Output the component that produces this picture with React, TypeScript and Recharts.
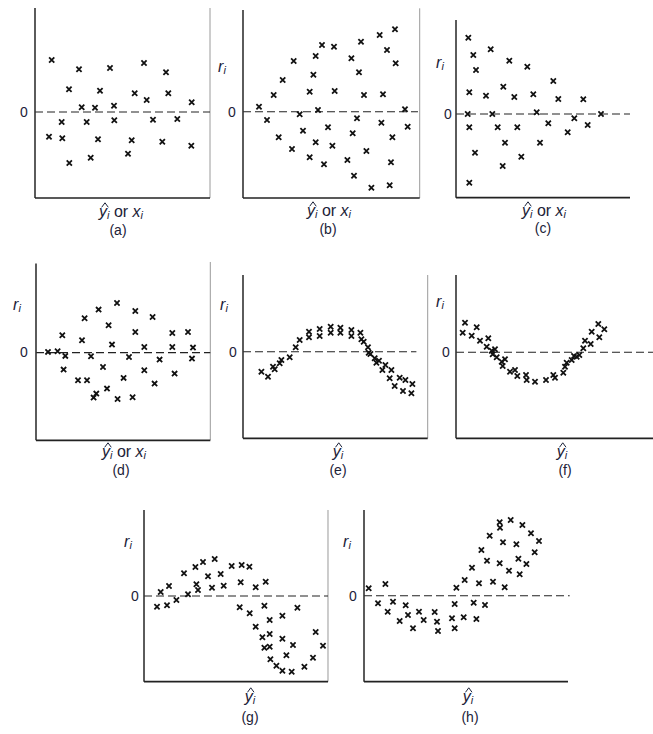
import React from "react";
import { ScatterChart, Scatter, XAxis, YAxis, ReferenceLine } from "recharts";

// residuals: [position along the axis, residual]
// both in screen px, x from the left axis, r above the zero line
const residA = [
  [16.7, 52], [44, 42.7], [75, 44], [109, 49], [131, 39.7], [34, 22.7], [65, 21.3],
  [99.7, 18.7], [133.3, 18.7], [111.7, 12], [156.7, 9.7], [46.7, 4.7], [60, 4.3],
  [79, 6.3], [26.7, -10], [51.7, -10], [79.3, -8.3], [118, -7.7], [142.3, -7],
  [14, -24.7], [27.3, -26.3], [63, -27.3], [96.7, -28.3], [127.3, -29.7],
  [156.3, -33.7], [34.3, -51], [55.7, -45.7], [93, -41.7],
];

const residB = [
  [16, 5], [24, -8.3], [30.7, 16.7], [35.7, -25.6], [39.7, 31.7], [49, -37.3],
  [50.7, 50.7], [56.7, -2.6], [60, -19], [66.7, 20], [66.7, -45.6], [70.4, 37],
  [72.7, 55.7], [72.7, -30.6], [75, 1.7], [79, 66.7], [81, -52.6], [85, -15.6],
  [89.4, -34], [91, 65], [91.7, 20.7], [104.4, -48.3], [108.4, 53.4], [109.7, -21.6],
  [111, -64], [114, -6.6], [116, 39.4], [118, 70], [121, 16.7], [123.4, -39.3],
  [128.4, -76], [136.7, 76.7], [138.4, -11], [140, 17.4], [144, 61.7], [146.7, -73.6],
  [148, -50.6], [149.4, -25.6], [152.7, 48.4], [152, 82.4], [162, 2.4], [164.7, -15],
];

const residC = [
  [12.3, 76.3], [17.3, 59], [20, 44], [13.3, 21.7], [11.7, 0], [13.3, -13.3],
  [19, -38.7], [13.3, -68.7], [34.7, 64.7], [30, 18.3], [36.3, 0], [41.7, -13.3],
  [47.3, 27.3], [49, -28.7], [46.7, -52], [53.3, 53.3], [58.3, 17], [61.3, -13.3],
  [65.3, -42.7], [71.3, 47.3], [77.3, 19.7], [80.7, 1.7], [84, -28.7], [92.3, -9.3],
  [97.3, 33], [102.3, 15], [111.7, -18.3], [118.3, -4.3], [127.3, 14.7],
  [131.7, -11], [145, 0],
];

const residD = [
  [12, 0.7], [21.6, 1.3], [29.3, -3.3], [26.3, 17.3], [27.6, -17], [42, -27.7],
  [46, 12.3], [48.6, 34.3], [51, -27.7], [55, -3.7], [57.6, -45], [60.3, -41],
  [62.6, 43], [67, -14.4], [71, -36], [72.6, 27.3], [76, 8], [81, 49.6],
  [81.6, -46.4], [87.6, -25.3], [93, -4.4], [96.6, -44.7], [99.3, 41.6], [99.3, 20.6],
  [108.3, 5.6], [108.3, -17.7], [116.6, 35.6], [118.6, -31], [123.6, -7],
  [136.3, 19.6], [136.3, 5.6], [138.6, -21], [152, 20.6], [157, 5], [156, -6],
];

const residE = [
  [18.4, -20], [25, -25], [30, -15], [31.7, -17.6], [36.7, -11.6], [38.4, -8.3],
  [46.7, -5.6], [52.7, 4.4], [56.7, 11.7], [66, 20], [66, 14.4], [76.7, 22.7],
  [76.7, 15.7], [87.7, 25], [87.7, 19], [97.4, 24], [97.4, 19], [108.4, 21.7],
  [108.4, 15.7], [117.4, 19], [118.4, 12.4], [120.7, 10], [125, 4.4], [125.7, -1],
  [127.4, -2.3], [131.7, -6.6], [133.4, -11], [136, -9], [139.4, -18.3],
  [142.4, -13.3], [146.7, -26.6], [148.4, -18.3], [151.7, -34.3], [156.7, -26],
  [160, -39.3], [162.4, -28.3], [168.4, -41.6], [169.4, -32.3],
];

const residF = [
  [6.7, 19.6], [9, 29.6], [15.7, 16.6], [20.7, 25], [24, 11.6], [30.7, 5.6],
  [32.3, 14], [35.7, 1.6], [39, 3], [36.7, -2], [40.7, -5], [45.7, -9.4], [49, -7],
  [46.7, -13.7], [54, -19.4], [59, -17.7], [61.3, -23.7], [70, -22.7], [70.7, -27.7],
  [79, -29.4], [90, -27.7], [97.3, -22.7], [99, -25.4], [107.3, -20.4], [109, -14.4],
  [110.7, -10.4], [115.7, -7.7], [118, -3.7], [120.7, -4.4], [123.3, -2.7],
  [127.3, 4], [129, 11.6], [134.7, 8.3], [135.7, 20.6], [142.3, 28.3], [143.3, 15],
  [148.3, 23],
];

const residG = [
  [13, -10.7], [16.7, 4], [23, -9.3], [25, 10], [32.4, -4], [40, 22.7], [44, 1.7],
  [51.4, 29], [52.4, 11.7], [54, 6], [59, 34], [64, 19.7], [68, 8.3], [70.7, 37],
  [76.7, 22], [79.7, 10.3], [87.7, 30], [95.7, -11.3], [96.7, 13.7], [97.7, 31],
  [105.4, 29.3], [105.7, -17.3], [111.7, 8.7], [111.7, -30.7], [118.4, -41.3],
  [120.4, -9.7], [121.7, 14.3], [120.4, -51.7], [125.7, -50.7], [125.7, -24],
  [125.7, -38], [126.4, -63.3], [132.4, -69.7], [138.4, -74.7], [138.4, -19.7],
  [138.4, -42.7], [142.4, -59.3], [147.7, -75.7], [149, -49], [153.4, -11.7],
  [160.4, -70.7], [169, -61.7], [171.7, -36], [179, -49.7],
];

const residH = [
  [4.7, 7.4], [21.4, 11.7], [14, -7.6], [23.7, -16], [29, -6], [35.7, -25.3],
  [41.7, -9.6], [44, -19.3], [49, -32.6], [55, -16], [59.7, -24.3], [70.7, -16.3],
  [73, -26], [74, -35.3], [88, -22.6], [90.7, -8.3], [90.7, -32.6], [92.4, 8],
  [99.7, -21.6], [100.7, 15.7], [108, 28], [109.7, -7], [112.4, -23.3], [115, 12.4],
  [117.4, 45.7], [121, -9.3], [123, 35], [125.7, 60], [129, 14], [135.7, 32.4],
  [135.7, 73.4], [136, 68], [139, 53.4], [140.7, 8.4], [145, 25], [146.7, 75.7],
  [152.4, 51.4], [154.4, 37], [155.7, 21.4], [158.4, 70.7], [162.4, 31.7],
  [167, 62.4], [170.7, 43.4], [175, 54.7],
];

const INK = "#1c2238";

function Cross(props: any) {
  const { cx, cy } = props;
  if (cx == null || cy == null) return null;
  const s = 2.6;
  return (
    <path
      d={`M${cx - s},${cy - s}L${cx + s},${cy + s}M${cx - s},${cy + s}L${cx + s},${cy - s}`}
      stroke="#111"
      strokeWidth={1.8}
    />
  );
}

function Hat({ children }: { children: React.ReactNode }) {
  return (
    <span style={{ position: "relative", display: "inline-block" }}>
      <svg width={8} height={6} style={{ position: "absolute", left: 2, top: -2 }}>
        <path d="M0.7 5.3 L4 0.8 L7.3 5.3" stroke={INK} strokeWidth={1} fill="none" />
      </svg>
      {children}
    </span>
  );
}

function Sub({ children }: { children: React.ReactNode }) {
  return <span style={{ fontSize: 11, fontStyle: "italic", position: "relative", top: 2 }}>{children}</span>;
}

function Txt({ x, y, children, size = 14 }: { x: number; y: number; children: React.ReactNode; size?: number }) {
  return (
    <div
      style={{
        position: "absolute",
        left: x,
        top: y,
        transform: "translate(-50%, -50%)",
        whiteSpace: "nowrap",
        fontFamily: "'Liberation Sans', Arial, sans-serif",
        fontSize: size,
        color: INK,
        lineHeight: 1,
      }}
    >
      {children}
    </div>
  );
}

const yHat = (
  <>
    <Hat><i>y</i></Hat>
    <Sub>i</Sub>
  </>
);

const yHatOrX = (
  <>
    {yHat} or <i>x</i>
    <Sub>i</Sub>
  </>
);

const rLabel = (
  <>
    <i>r</i>
    <Sub>i</Sub>
  </>
);

type PanelProps = {
  pts: number[][];
  originX: number;
  zeroY: number;
  xMax: number;
  yMax: number;
  yMin: number;
  axisTop: number;
  borderTop?: number;
  dashEnd: number;
  bottomEnd: number;
};

function Panel({ pts, originX, zeroY, xMax, yMax, yMin, axisTop, borderTop, dashEnd, bottomEnd }: PanelProps) {
  const data = pts.map(([x, y]) => ({ x, y }));
  const pad = 3;
  return (
    <div style={{ position: "absolute", left: originX - pad, top: zeroY - yMax - pad }}>
      <ScatterChart
        width={xMax + pad * 2}
        height={yMax - yMin + pad * 2}
        margin={{ top: pad, right: pad, bottom: pad, left: pad }}
      >
        <XAxis type="number" dataKey="x" domain={[0, xMax]} hide allowDataOverflow />
        <YAxis type="number" dataKey="y" domain={[yMin, yMax]} hide allowDataOverflow />
        {borderTop != null && (
          <ReferenceLine
            segment={[{ x: xMax, y: borderTop }, { x: xMax, y: yMin }]}
            stroke="#9a9a9a"
            strokeWidth={1}
            ifOverflow="visible"
          />
        )}
        <ReferenceLine
          segment={[{ x: 0, y: 0 }, { x: dashEnd, y: 0 }]}
          stroke="#222"
          strokeWidth={1.1}
          strokeDasharray="8 4"
          ifOverflow="visible"
        />
        <ReferenceLine
          segment={[{ x: 0, y: axisTop }, { x: 0, y: yMin }]}
          stroke="#333"
          strokeWidth={1.6}
          ifOverflow="visible"
        />
        <ReferenceLine
          segment={[{ x: 0, y: yMin }, { x: bottomEnd, y: yMin }]}
          stroke="#222"
          strokeWidth={1.7}
          ifOverflow="visible"
        />
        <Scatter data={data} shape={<Cross />} isAnimationActive={false} />
      </ScatterChart>
    </div>
  );
}

export default function App() {
  return (
    <div style={{ position: "absolute", left: 0, top: 0, width: 653, height: 734, background: "#fff", overflow: "hidden" }}>
      <Panel pts={residA} originX={35} zeroY={112} xMax={175} yMax={104} yMin={-86} axisTop={104} borderTop={104} dashEnd={175} bottomEnd={175} />
      <Panel pts={residB} originX={243.3} zeroY={111.7} xMax={176.7} yMax={103.7} yMin={-86.3} axisTop={101.7} borderTop={103.4} dashEnd={175} bottomEnd={176.7} />
      <Panel pts={residC} originX={456} zeroY={114} xMax={174} yMax={94} yMin={-83.7} axisTop={94} dashEnd={174} bottomEnd={174} />
      <Panel pts={residD} originX={35.7} zeroY={352.3} xMax={174.3} yMax={90.6} yMin={-87.7} axisTop={89} borderTop={90.6} dashEnd={174.3} bottomEnd={174.3} />
      <Panel pts={residE} originX={243.3} zeroY={351.7} xMax={184.7} yMax={76.7} yMin={-86.6} axisTop={76.7} borderTop={76.7} dashEnd={173.4} bottomEnd={184.7} />
      <Panel pts={residF} originX={456} zeroY={352.3} xMax={197} yMax={77.3} yMin={-86} axisTop={77.3} dashEnd={197} bottomEnd={197} />
      <Panel pts={residG} originX={144.3} zeroY={596} xMax={184} yMax={86} yMin={-85.7} axisTop={86} borderTop={86} dashEnd={184} bottomEnd={184} />
      <Panel pts={residH} originX={364.3} zeroY={595.7} xMax={205.7} yMax={85.7} yMin={-86} axisTop={85.7} dashEnd={205.7} bottomEnd={204} />

      <Txt x={24} y={112}>0</Txt>
      <Txt x={121} y={212} size={16}>{yHatOrX}</Txt>
      <Txt x={118} y={230}>(a)</Txt>

      <Txt x={222} y={67} size={16}>{rLabel}</Txt>
      <Txt x={232} y={112}>0</Txt>
      <Txt x={329} y={211} size={16}>{yHatOrX}</Txt>
      <Txt x={328} y={229}>(b)</Txt>

      <Txt x={440} y={63} size={16}>{rLabel}</Txt>
      <Txt x={448} y={114}>0</Txt>
      <Txt x={544} y={211} size={16}>{yHatOrX}</Txt>
      <Txt x={543} y={228}>(c)</Txt>

      <Txt x={17} y={305} size={16}>{rLabel}</Txt>
      <Txt x={24} y={352}>0</Txt>
      <Txt x={124} y={452} size={16}>{yHatOrX}</Txt>
      <Txt x={121} y={470}>(d)</Txt>

      <Txt x={224} y={305} size={16}>{rLabel}</Txt>
      <Txt x={233} y={352}>0</Txt>
      <Txt x={338} y={452} size={16}>{yHat}</Txt>
      <Txt x={338} y={470}>(e)</Txt>

      <Txt x={440} y={302} size={16}>{rLabel}</Txt>
      <Txt x={446} y={352}>0</Txt>
      <Txt x={562} y={452} size={16}>{yHat}</Txt>
      <Txt x={565} y={470}>(f)</Txt>

      <Txt x={128} y={542} size={16}>{rLabel}</Txt>
      <Txt x={135} y={596}>0</Txt>
      <Txt x={250} y={697} size={16}>{yHat}</Txt>
      <Txt x={250} y={717}>(g)</Txt>

      <Txt x={347} y={542} size={16}>{rLabel}</Txt>
      <Txt x={353} y={596}>0</Txt>
      <Txt x={468} y={697} size={16}>{yHat}</Txt>
      <Txt x={470} y={717}>(h)</Txt>
    </div>
  );
}
